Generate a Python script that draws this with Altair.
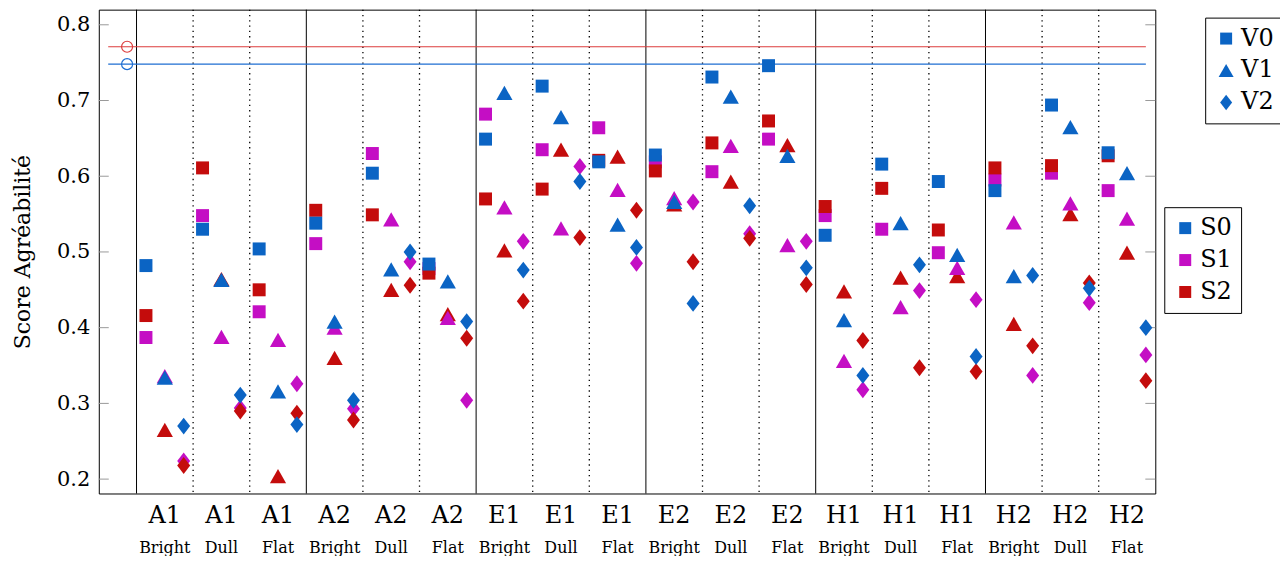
import altair as alt
import pandas as pd

FONT = "DejaVu Serif"

groups = ["A1", "A1", "A1", "A2", "A2", "A2", "E1", "E1", "E1",
          "E2", "E2", "E2", "H1", "H1", "H1", "H2", "H2", "H2"]
conds = ["Bright", "Dull", "Flat"] * 6
variants = ["V0", "V1", "V2"]
series = ["S0", "S1", "S2"]
series_colors = ["#0B64C4", "#C40EC4", "#C40C0C"]

# V0 (squares)
v0_s0 = [0.482, 0.530, 0.504, 0.538, 0.604, 0.484, 0.649, 0.719, 0.619,
         0.628, 0.731, 0.746, 0.522, 0.616, 0.593, 0.581, 0.694, 0.631]
v0_s1 = [0.387, 0.548, 0.421, 0.511, 0.630, 0.478, 0.682, 0.635, 0.664,
         0.619, 0.606, 0.649, 0.548, 0.530, 0.499, 0.595, 0.604, 0.581]
v0_s2 = [0.416, 0.611, 0.450, 0.555, 0.549, 0.472, 0.570, 0.583, 0.621,
         0.607, 0.644, 0.673, 0.560, 0.584, 0.529, 0.611, 0.614, 0.627]
# V1 (triangles)
v1_s0 = [0.334, 0.463, 0.316, 0.408, 0.477, 0.461, 0.710, 0.678, 0.536,
         0.566, 0.705, 0.627, 0.410, 0.538, 0.496, 0.468, 0.665, 0.604]
v1_s1 = [0.336, 0.388, 0.384, 0.400, 0.543, 0.413, 0.559, 0.531, 0.582,
         0.571, 0.640, 0.509, 0.356, 0.427, 0.479, 0.539, 0.564, 0.544]
v1_s2 = [0.265, 0.464, 0.204, 0.360, 0.450, 0.418, 0.502, 0.635, 0.626,
         0.563, 0.593, 0.641, 0.448, 0.466, 0.468, 0.405, 0.550, 0.499]
# V2 (diamonds)
v2_s0 = [0.270, 0.311, 0.272, 0.304, 0.500, 0.408, 0.476, 0.593, 0.506,
         0.432, 0.561, 0.479, 0.337, 0.483, 0.362, 0.469, 0.452, 0.400]
v2_s1 = [0.224, 0.294, 0.326, 0.293, 0.487, 0.304, 0.514, 0.613, 0.485,
         0.566, 0.524, 0.514, 0.318, 0.449, 0.437, 0.337, 0.433, 0.364]
v2_s2 = [0.218, 0.290, 0.287, 0.278, 0.456, 0.386, 0.435, 0.519, 0.555,
         0.487, 0.518, 0.457, 0.383, 0.347, 0.342, 0.376, 0.459, 0.330]

ref_values = [0.771, 0.748]
ref_colors = ["#DC3C3C", "#1E6ED2"]
ref_x_span = [-2, 53]
ref_mark_x = -1

y_ticks = [0.2, 0.3, 0.4, 0.5, 0.6, 0.7, 0.8]
solid_lines = [-0.5, 8.5, 17.5, 26.5, 35.5, 44.5]
dotted_lines = [2.5, 5.5, 11.5, 14.5, 20.5, 23.5, 29.5, 32.5, 38.5, 41.5, 47.5, 50.5]

vals = {
    ("V0", "S0"): v0_s0, ("V0", "S1"): v0_s1, ("V0", "S2"): v0_s2,
    ("V1", "S0"): v1_s0, ("V1", "S1"): v1_s1, ("V1", "S2"): v1_s2,
    ("V2", "S0"): v2_s0, ("V2", "S1"): v2_s1, ("V2", "S2"): v2_s2,
}
draw_order = {"V0": ["S1", "S2", "S0"], "V1": ["S2", "S1", "S0"], "V2": ["S1", "S2", "S0"]}

rows = []
for vi, v in enumerate(variants):
    for zi, s in enumerate(draw_order[v]):
        for g in range(len(groups)):
            rows.append(dict(x=3 * g + vi, y=vals[(v, s)][g], V=v, S=s, z=zi))
df = pd.DataFrame(rows).sort_values("z", kind="stable").reset_index(drop=True)

lab = pd.DataFrame({"xc": [3 * g + 1 for g in range(len(groups))],
                    "group": groups, "cond": conds})

W, H = 1059, 485
xs = alt.Scale(domain=[-2.5, 53.5], nice=False, zero=False)
ys = alt.Scale(domain=[0.181, 0.82], nice=False, zero=False)

yaxis = alt.Axis(values=y_ticks, format=".1f", ticks=False, domain=False, grid=False,
                 labelFont=FONT, labelFontSize=21, labelColor="black", labelPadding=9,
                 title="Score Agréabilité", titleFont=FONT, titleFontSize=22,
                 titleFontWeight="normal", titleColor="black", titlePadding=22)

vl_solid = alt.Chart(pd.DataFrame({"x": solid_lines})).mark_rule(
    color="black", strokeWidth=1).encode(x=alt.X("x:Q", scale=xs, axis=None))
vl_dot = alt.Chart(pd.DataFrame({"x": dotted_lines})).mark_rule(
    color="black", strokeWidth=1.3, strokeDash=[1.3, 4]).encode(x=alt.X("x:Q", scale=xs, axis=None))

tdf = pd.DataFrame({"t": y_ticks})
tick_l = alt.Chart(tdf).mark_rule(color="#9a9a9a", strokeWidth=1).encode(
    y=alt.Y("t:Q", scale=ys, axis=yaxis), x=alt.value(0), x2=alt.value(10))
tick_r = alt.Chart(tdf).mark_rule(color="#9a9a9a", strokeWidth=1).encode(
    y=alt.Y("t:Q", scale=ys, axis=yaxis), x=alt.value(W - 10), x2=alt.value(W))

ref_layers = []
for val, col in zip(ref_values, ref_colors):
    ldf = pd.DataFrame({"x": ref_x_span, "y": [val, val]})
    ref_layers.append(alt.Chart(ldf).mark_line(color=col, strokeWidth=1.2).encode(
        x=alt.X("x:Q", scale=xs, axis=None), y=alt.Y("y:Q", scale=ys, axis=yaxis)))
    cdf = pd.DataFrame({"x": [ref_mark_x], "y": [val]})
    ref_layers.append(alt.Chart(cdf).mark_point(shape="circle", filled=False, color=col,
                                                size=121, strokeWidth=1.2, opacity=1).encode(
        x=alt.X("x:Q", scale=xs, axis=None), y=alt.Y("y:Q", scale=ys, axis=yaxis)))

square = "M-1,-1L1,-1L1,1L-1,1Z"
triangle = "M0,-1.1L1.25,1.1L-1.25,1.1Z"
diamond = "M0,-1.3L1,0L0,1.3L-1,0Z"

legend_common = dict(title=None, labelFont=FONT, labelFontSize=24, labelColor="black",
                     strokeColor="black", fillColor="white", padding=9,
                     rowPadding=8, labelOffset=3, symbolStrokeWidth=0)

points = alt.Chart(df).mark_point(filled=True, opacity=1, strokeWidth=0, size=169).encode(
    x=alt.X("x:Q", scale=xs, axis=None),
    y=alt.Y("y:Q", scale=ys, axis=yaxis),
    color=alt.Color("S:N", scale=alt.Scale(domain=series, range=series_colors),
                    legend=alt.Legend(orient="none", legendX=1068, legendY=198,
                                      symbolType="square", symbolSize=144, **legend_common)),
    shape=alt.Shape("V:N", scale=alt.Scale(domain=variants, range=[square, triangle, diamond]),
                    legend=alt.Legend(orient="none", legendX=1109, legendY=8,
                                      symbolFillColor="#0B64C4", symbolStrokeColor="#0B64C4",
                                      symbolSize=144, **legend_common)),
)

top_lab = alt.Chart(lab).mark_text(font=FONT, fontSize=24, baseline="alphabetic",
                                   align="center", color="black").encode(
    x=alt.X("xc:Q", scale=xs, axis=None), y=alt.value(515), text="group:N")
sub_lab = alt.Chart(lab).mark_text(font=FONT, fontSize=16, baseline="alphabetic",
                                   align="center", color="black").encode(
    x=alt.X("xc:Q", scale=xs, axis=None), y=alt.value(545), text="cond:N")

chart = alt.layer(vl_dot, vl_solid, tick_l, tick_r, *ref_layers, points, top_lab, sub_lab).properties(
    width=W, height=H,
    autosize=alt.AutoSizeParams(type="none"),
    padding={"left": 91, "top": 1, "right": 125, "bottom": 62},
).configure_view(stroke="black", strokeWidth=1).configure_legend(
    labelFont=FONT
).configure_axis(labelFont=FONT, titleFont=FONT)

chart.save("out.html", embed_options={"renderer": "svg", "actions": False})
